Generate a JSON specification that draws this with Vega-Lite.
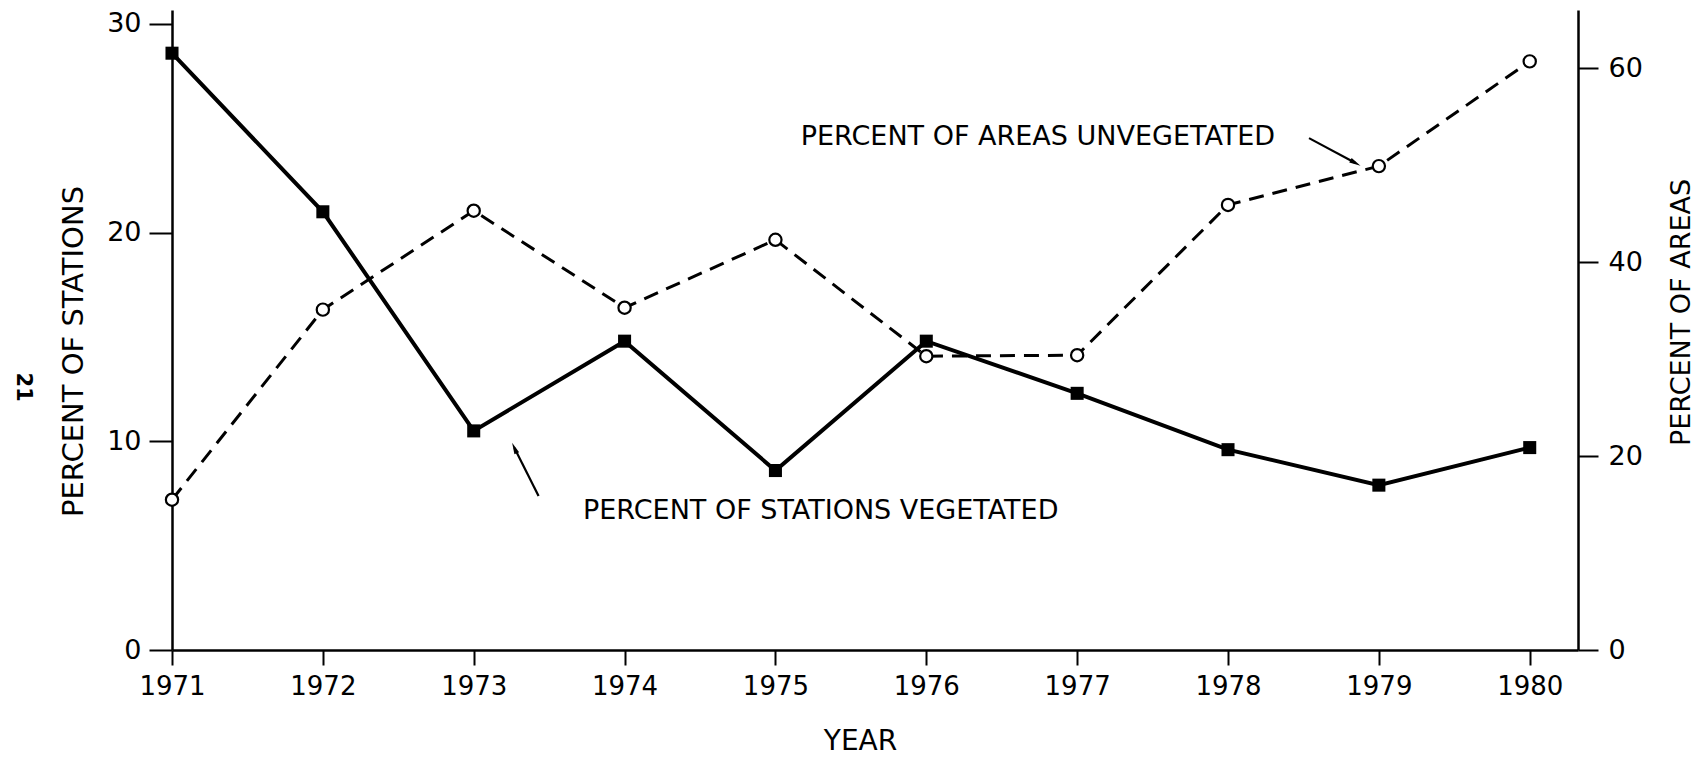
{
  "$schema": "https://vega.github.io/schema/vega-lite/v6.json",
  "width": 1406,
  "height": 640,
  "autosize": {"type": "none"},
  "padding": {"left": 172, "top": 10, "right": 126, "bottom": 107},
  "background": "white",
  "config": {
    "view": {"stroke": null},
    "font": "DejaVu Sans",
    "axis": {
      "domainColor": "black",
      "domainWidth": 2.5,
      "tickColor": "black",
      "tickWidth": 2,
      "labelColor": "black",
      "titleColor": "black",
      "labelFont": "DejaVu Sans",
      "titleFont": "DejaVu Sans",
      "titleFontWeight": "normal",
      "labelFlush": false,
      "labelOverlap": false,
      "grid": false
    }
  },
  "datasets": {
    "series": [
      {"year": 1971, "stations": 28.6, "areas": 15.5},
      {"year": 1972, "stations": 21.0, "areas": 35.1},
      {"year": 1973, "stations": 10.5, "areas": 45.3},
      {"year": 1974, "stations": 14.8, "areas": 35.3},
      {"year": 1975, "stations": 8.6, "areas": 42.3},
      {"year": 1976, "stations": 14.8, "areas": 30.3},
      {"year": 1977, "stations": 12.3, "areas": 30.4},
      {"year": 1978, "stations": 9.6, "areas": 45.9},
      {"year": 1979, "stations": 7.9, "areas": 49.9},
      {"year": 1980, "stations": 9.7, "areas": 60.7}
    ],
    "labels": [
      {"label": "PERCENT OF STATIONS VEGETATED", "year": 1975.30, "level": 6.66},
      {"label": "PERCENT OF AREAS UNVEGETATED", "year": 1976.74, "level": 24.58}
    ],
    "page": [
      {"label": "21", "year": 1970.015, "level": 12.6}
    ],
    "arrows": [
      {"name": "areas", "x0": 1978.537, "y0": 24.53, "x1": 1978.845, "y1": 23.34},
      {"name": "stations", "x0": 1973.43, "y0": 7.38, "x1": 1973.27, "y1": 9.68}
    ]
  },
  "layer": [
    {
      "layer": [
        {
          "data": {"name": "series"},
          "mark": {"type": "line", "color": "black", "strokeWidth": 3, "strokeDash": [15, 9]},
          "encoding": {
            "x": {"field": "year", "type": "quantitative", "scale": {"domain": [1971, 1980.32], "nice": false, "zero": false},
                  "axis": {"values": [1971,1972,1973,1974,1975,1976,1977,1978,1979,1980], "format": "d", "tickSize": 15, "labelPadding": 8, "labelFontSize": 26, "title": "YEAR", "titleFontSize": 28, "titlePadding": 28, "titleX": 688}},
            "y": {"field": "areas", "type": "quantitative", "scale": {"domain": [0, 66], "nice": false},
                  "axis": {"orient": "right", "values": [0, 20, 40, 60], "title": "PERCENT OF AREAS", "tickSize": 20, "labelPadding": 10, "labelFontSize": 27, "titleFontSize": 27, "titleAngle": 270, "titleBaseline": "top", "titlePadding": 26, "titleY": 302}}
          }
        },
        {
          "data": {"name": "series"},
          "mark": {"type": "point", "shape": "circle", "filled": true, "fill": "white", "stroke": "black", "strokeWidth": 2.2, "size": 150, "opacity": 1},
          "encoding": {
            "x": {"field": "year", "type": "quantitative", "scale": {"domain": [1971, 1980.32], "nice": false, "zero": false},
                  "axis": {"values": [1971,1972,1973,1974,1975,1976,1977,1978,1979,1980], "format": "d", "tickSize": 15, "labelPadding": 8, "labelFontSize": 26, "title": "YEAR", "titleFontSize": 28, "titlePadding": 28, "titleX": 688}},
            "y": {"field": "areas", "type": "quantitative", "scale": {"domain": [0, 66], "nice": false},
                  "axis": {"orient": "right", "values": [0, 20, 40, 60], "title": "PERCENT OF AREAS", "tickSize": 20, "labelPadding": 10, "labelFontSize": 27, "titleFontSize": 27, "titleAngle": 270, "titleBaseline": "top", "titlePadding": 26, "titleY": 302}}
          }
        }
      ]
    },
    {
      "layer": [
        {
          "data": {"name": "series"},
          "mark": {"type": "line", "color": "black", "strokeWidth": 4},
          "encoding": {
            "x": {"field": "year", "type": "quantitative", "scale": {"domain": [1971, 1980.32], "nice": false, "zero": false},
                  "axis": {"values": [1971,1972,1973,1974,1975,1976,1977,1978,1979,1980], "format": "d", "tickSize": 15, "labelPadding": 8, "labelFontSize": 26, "title": "YEAR", "titleFontSize": 28, "titlePadding": 28, "titleX": 688}},
            "y": {"field": "stations", "type": "quantitative", "scale": {"domain": [0, 30.67], "nice": false},
                  "axis": {"orient": "left", "values": [0, 10, 20, 30], "title": "PERCENT OF STATIONS", "tickSize": 23, "labelPadding": 8, "labelFontSize": 27, "titleFontSize": 29, "titlePadding": 18, "titleY": 341}}
          }
        },
        {
          "data": {"name": "series"},
          "mark": {"type": "point", "shape": "square", "filled": true, "color": "black", "size": 170, "opacity": 1},
          "encoding": {
            "x": {"field": "year", "type": "quantitative", "scale": {"domain": [1971, 1980.32], "nice": false, "zero": false},
                  "axis": {"values": [1971,1972,1973,1974,1975,1976,1977,1978,1979,1980], "format": "d", "tickSize": 15, "labelPadding": 8, "labelFontSize": 26, "title": "YEAR", "titleFontSize": 28, "titlePadding": 28, "titleX": 688}},
            "y": {"field": "stations", "type": "quantitative", "scale": {"domain": [0, 30.67], "nice": false},
                  "axis": {"orient": "left", "values": [0, 10, 20, 30], "title": "PERCENT OF STATIONS", "tickSize": 23, "labelPadding": 8, "labelFontSize": 27, "titleFontSize": 29, "titlePadding": 18, "titleY": 341}}
          }
        },
        {
          "data": {"name": "labels"},
          "mark": {"type": "text", "fontSize": 27, "color": "black", "align": "center", "baseline": "middle"},
          "encoding": {
            "x": {"field": "year", "type": "quantitative", "scale": {"domain": [1971, 1980.32], "nice": false, "zero": false},
                  "axis": {"values": [1971,1972,1973,1974,1975,1976,1977,1978,1979,1980], "format": "d", "tickSize": 15, "labelPadding": 8, "labelFontSize": 26, "title": "YEAR", "titleFontSize": 28, "titlePadding": 28, "titleX": 688}},
            "y": {"field": "level", "type": "quantitative", "scale": {"domain": [0, 30.67], "nice": false},
                  "axis": {"orient": "left", "values": [0, 10, 20, 30], "title": "PERCENT OF STATIONS", "tickSize": 23, "labelPadding": 8, "labelFontSize": 27, "titleFontSize": 29, "titlePadding": 18, "titleY": 341}},
            "text": {"field": "label", "type": "nominal"}
          }
        },
        {
          "data": {"name": "page"},
          "mark": {"type": "text", "fontSize": 21, "fontWeight": "bold", "color": "black", "align": "center", "baseline": "middle", "angle": 90},
          "encoding": {
            "x": {"field": "year", "type": "quantitative", "scale": {"domain": [1971, 1980.32], "nice": false, "zero": false},
                  "axis": {"values": [1971,1972,1973,1974,1975,1976,1977,1978,1979,1980], "format": "d", "tickSize": 15, "labelPadding": 8, "labelFontSize": 26, "title": "YEAR", "titleFontSize": 28, "titlePadding": 28, "titleX": 688}},
            "y": {"field": "level", "type": "quantitative", "scale": {"domain": [0, 30.67], "nice": false},
                  "axis": {"orient": "left", "values": [0, 10, 20, 30], "title": "PERCENT OF STATIONS", "tickSize": 23, "labelPadding": 8, "labelFontSize": 27, "titleFontSize": 29, "titlePadding": 18, "titleY": 341}},
            "text": {"field": "label", "type": "nominal"}
          }
        },
        {
          "data": {"name": "arrows"},
          "mark": {"type": "rule", "color": "black", "strokeWidth": 2.2},
          "encoding": {
            "x": {"field": "x0", "type": "quantitative", "scale": {"domain": [1971, 1980.32], "nice": false, "zero": false},
                  "axis": {"values": [1971,1972,1973,1974,1975,1976,1977,1978,1979,1980], "format": "d", "tickSize": 15, "labelPadding": 8, "labelFontSize": 26, "title": "YEAR", "titleFontSize": 28, "titlePadding": 28, "titleX": 688}},
            "y": {"field": "y0", "type": "quantitative", "scale": {"domain": [0, 30.67], "nice": false},
                  "axis": {"orient": "left", "values": [0, 10, 20, 30], "title": "PERCENT OF STATIONS", "tickSize": 23, "labelPadding": 8, "labelFontSize": 27, "titleFontSize": 29, "titlePadding": 18, "titleY": 341}},
            "x2": {"field": "x1"},
            "y2": {"field": "y1"}
          }
        },
        {
          "data": {"name": "arrows"},
          "transform": [{"filter": "datum.name == 'areas'"}],
          "mark": {"type": "point", "shape": "M0,-1L0.45,1L-0.45,1Z", "filled": true, "color": "black", "size": 130, "opacity": 1, "angle": 118},
          "encoding": {
            "x": {"field": "x1", "type": "quantitative", "scale": {"domain": [1971, 1980.32], "nice": false, "zero": false},
                  "axis": {"values": [1971,1972,1973,1974,1975,1976,1977,1978,1979,1980], "format": "d", "tickSize": 15, "labelPadding": 8, "labelFontSize": 26, "title": "YEAR", "titleFontSize": 28, "titlePadding": 28, "titleX": 688}},
            "y": {"field": "y1", "type": "quantitative", "scale": {"domain": [0, 30.67], "nice": false},
                  "axis": {"orient": "left", "values": [0, 10, 20, 30], "title": "PERCENT OF STATIONS", "tickSize": 23, "labelPadding": 8, "labelFontSize": 27, "titleFontSize": 29, "titlePadding": 18, "titleY": 341}}
          }
        },
        {
          "data": {"name": "arrows"},
          "transform": [{"filter": "datum.name == 'stations'"}],
          "mark": {"type": "point", "shape": "M0,-1L0.45,1L-0.45,1Z", "filled": true, "color": "black", "size": 130, "opacity": 1, "angle": 336},
          "encoding": {
            "x": {"field": "x1", "type": "quantitative", "scale": {"domain": [1971, 1980.32], "nice": false, "zero": false},
                  "axis": {"values": [1971,1972,1973,1974,1975,1976,1977,1978,1979,1980], "format": "d", "tickSize": 15, "labelPadding": 8, "labelFontSize": 26, "title": "YEAR", "titleFontSize": 28, "titlePadding": 28, "titleX": 688}},
            "y": {"field": "y1", "type": "quantitative", "scale": {"domain": [0, 30.67], "nice": false},
                  "axis": {"orient": "left", "values": [0, 10, 20, 30], "title": "PERCENT OF STATIONS", "tickSize": 23, "labelPadding": 8, "labelFontSize": 27, "titleFontSize": 29, "titlePadding": 18, "titleY": 341}}
          }
        }
      ]
    }
  ],
  "resolve": {"scale": {"y": "independent"}}
}
